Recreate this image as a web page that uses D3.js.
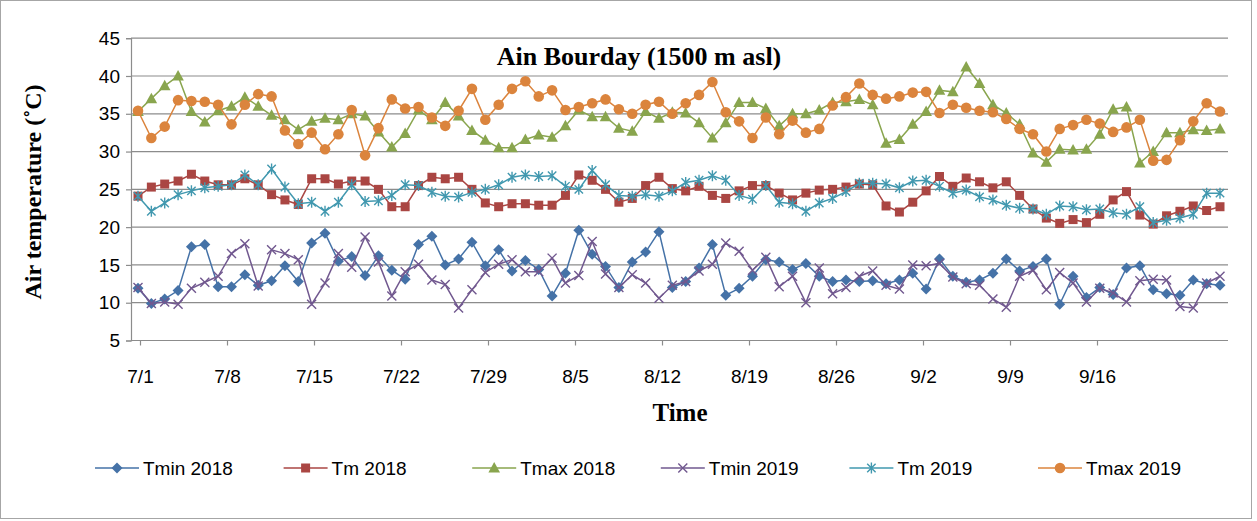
<!DOCTYPE html>
<html>
<head>
<meta charset="utf-8">
<script src="https://cdn.jsdelivr.net/npm/d3@7"></script>
<style>
  body { margin: 0; background: #fff; }
  svg { display: block; }
</style>
</head>
<body>
<svg id="chart" width="1257" height="521"></svg>
<script>
// x-axis tick labels (month/day)
const tickLabels = ['7/1', '7/8', '7/15', '7/22', '7/29', '8/5', '8/12', '8/19', '8/26', '9/2', '9/9', '9/16'];

// daily air temperature (°C), 82 days from 7/1
const tmin2018 = [
  11.9, 9.9, 10.5, 11.6, 17.4, 17.7, 12.1, 12.1, 13.7, 12.3, 12.9, 14.9, 12.8, 17.9,
  19.2, 15.5, 16.1, 13.6, 16.2, 14.3, 13.1, 17.7, 18.8, 15.0, 15.8, 18.0, 14.9,
  17.0, 14.2, 15.6, 14.4, 10.9, 13.9, 19.6, 16.4, 14.8, 12.0, 15.4, 16.7, 19.4, 12.0,
  12.8, 14.6, 17.7, 11.0, 11.9, 13.5, 15.7, 15.4, 14.4, 15.2, 13.5, 12.8, 13.0,
  12.8, 12.9, 12.5, 13.0, 13.9, 11.8, 15.8, 13.5, 12.7, 13.0, 13.9, 15.8, 14.2,
  14.8, 15.8, 9.8, 13.5, 10.7, 12.0, 11.1, 14.6, 14.9, 11.7, 11.2, 11.0, 13.0, 12.5, 12.3
];
const tm2018 = [
  24.1, 25.3, 25.7, 26.1, 27.0, 26.1, 25.6, 25.6, 26.4, 25.6, 24.3, 23.6, 23.0, 26.4,
  26.4, 25.7, 26.1, 26.1, 25.0, 22.7, 22.7, 25.5, 26.6, 26.4, 26.6, 25.0, 23.2,
  22.7, 23.1, 23.1, 22.9, 22.9, 24.2, 26.9, 26.2, 25.0, 23.3, 23.8, 25.5, 26.6, 25.1,
  24.8, 25.4, 24.2, 23.8, 24.8, 25.5, 25.5, 24.5, 23.6, 24.5, 24.9, 25.0, 25.3,
  25.7, 25.6, 22.8, 22.0, 23.3, 24.8, 26.7, 25.4, 26.5, 26.0, 25.2, 26.0, 24.2,
  22.4, 21.2, 20.5, 21.0, 20.6, 21.7, 23.6, 24.7, 21.6, 20.4, 21.5, 22.1, 22.8, 22.2, 22.7
];
const tmax2018 = [
  35.3, 37.0, 38.7, 40.0, 35.3, 33.9, 35.4, 36.0, 37.2, 36.0, 34.8, 34.2, 32.9, 34.0,
  34.4, 34.2, 35.0, 34.7, 32.6, 30.6, 32.4, 35.5, 34.2, 36.5, 34.7, 32.8, 31.5,
  30.5, 30.5, 31.6, 32.2, 31.9, 33.4, 35.5, 34.6, 34.6, 33.1, 32.7, 35.3, 34.4, 35.2,
  35.1, 33.8, 31.8, 33.8, 36.5, 36.5, 35.7, 33.4, 35.0, 35.0, 35.5, 36.5, 36.6,
  36.9, 36.2, 31.1, 31.6, 33.6, 35.3, 38.1, 37.9, 41.2, 39.0, 36.2, 35.1, 33.6,
  29.8, 28.6, 30.3, 30.2, 30.3, 32.3, 35.6, 35.9, 28.5, 30.0, 32.5, 32.5, 32.9, 32.8, 33.0
];
const tmin2019 = [
  12.0, 9.9, 10.1, 9.8, 11.9, 12.7, 13.5, 16.5, 17.8, 12.2, 17.0, 16.5, 15.7, 9.8,
  12.6, 16.5, 14.7, 18.7, 15.4, 10.9, 14.1, 15.1, 13.0, 12.4, 9.3, 11.7, 14.0,
  15.1, 15.7, 14.1, 14.1, 15.9, 12.6, 13.6, 18.1, 13.8, 12.0, 13.7, 12.6, 10.6, 12.3,
  12.8, 14.2, 15.1, 17.9, 16.8, 14.3, 16.0, 12.1, 13.5, 10.0, 14.6, 11.2, 12.0,
  13.5, 14.2, 12.3, 11.8, 15.0, 14.9, 15.2, 13.4, 12.5, 12.3, 10.5, 9.4, 13.5,
  14.3, 11.7, 14.0, 12.6, 10.1, 11.9, 11.3, 10.1, 12.9, 13.1, 13.0, 9.5, 9.3, 12.6, 13.5
];
const tm2019 = [
  24.1, 22.1, 23.2, 24.3, 24.8, 25.2, 25.4, 25.6, 26.9, 25.6, 27.7, 25.3, 23.1, 23.3,
  22.1, 23.3, 25.6, 23.4, 23.5, 24.2, 25.6, 25.5, 24.6, 24.1, 24.0, 24.6, 25.0,
  25.6, 26.6, 26.9, 26.7, 26.8, 25.4, 25.0, 27.5, 25.6, 24.2, 24.1, 24.3, 24.1, 24.8,
  25.9, 26.2, 26.8, 26.2, 24.2, 23.7, 25.5, 23.3, 23.1, 22.1, 23.2, 23.8, 24.7,
  25.8, 25.8, 25.7, 25.2, 26.1, 26.2, 25.4, 24.5, 24.9, 24.0, 23.6, 22.9, 22.5,
  22.4, 21.7, 22.8, 22.7, 22.3, 22.4, 21.9, 21.7, 22.7, 20.6, 20.9, 21.2, 21.7, 24.5, 24.5
];
const tmax2019 = [
  35.4, 31.8, 33.3, 36.8, 36.7, 36.6, 36.2, 33.6, 36.2, 37.6, 37.3, 32.8, 31.0, 32.5,
  30.3, 32.3, 35.5, 29.5, 33.1, 36.9, 35.7, 35.9, 34.5, 33.4, 35.4, 38.3, 34.2,
  36.2, 38.3, 39.3, 37.3, 38.1, 35.5, 35.9, 36.4, 36.9, 35.6, 35.0, 36.2, 36.6, 35.0,
  36.4, 37.5, 39.2, 35.2, 34.0, 31.8, 34.5, 32.3, 34.1, 32.5, 33.0, 36.1, 37.2,
  39.0, 37.5, 37.0, 37.3, 37.8, 37.9, 35.1, 36.2, 35.8, 35.4, 35.2, 34.3, 33.0,
  32.3, 30.0, 33.0, 33.5, 34.2, 33.7, 32.6, 33.2, 34.2, 28.8, 28.9, 31.5, 34.0, 36.4, 35.3
];

const seriesNames = ['Tmin 2018', 'Tm 2018', 'Tmax 2018', 'Tmin 2019', 'Tm 2019', 'Tmax 2019'];

const series = [
  { name: seriesNames[0], values: tmin2018, color: '#4572A7', marker: 'diamond' },
  { name: seriesNames[1], values: tm2018, color: '#AA4643', marker: 'square' },
  { name: seriesNames[2], values: tmax2018, color: '#89A54E', marker: 'triangle' },
  { name: seriesNames[3], values: tmin2019, color: '#71588F', marker: 'cross' },
  { name: seriesNames[4], values: tm2019, color: '#4198AF', marker: 'star' },
  { name: seriesNames[5], values: tmax2019, color: '#DB843D', marker: 'circle' }
];

const SANS = 'Liberation Sans, Arial, sans-serif';
const SERIF = 'Liberation Serif, Times New Roman, serif';
const GRID = '#8c8c8c';

const svg = d3.select('#chart');

// outer chart border
svg.append('rect')
  .attr('x', 0.5).attr('y', 0.5)
  .attr('width', 1251).attr('height', 518)
  .attr('fill', '#fff')
  .attr('stroke', '#a6a6a6');

const plot = { left: 131, right: 1228, top: 38.2, bottom: 340.5 };

// scales
const x = d3.scaleLinear().domain([0, tmin2018.length - 1]).range([138, 1220]);
const parseMD = d3.timeParse('%m/%d');
const tickDates = tickLabels.map(parseMD);
const xDate = d3.scaleTime()
  .domain([tickDates[0], tickDates[tickDates.length - 1]])
  .range([140, 1097]);
const y = d3.scaleLinear().domain([5, 45]).range([plot.bottom, plot.top]);

// horizontal gridlines
svg.append('g')
  .selectAll('line')
  .data(d3.range(10, 46, 5))
  .join('line')
  .attr('x1', plot.left).attr('x2', plot.right)
  .attr('y1', d => y(d)).attr('y2', d => y(d))
  .attr('stroke', GRID)
  .attr('stroke-width', 1.2);

// y axis
const yAxis = svg.append('g')
  .attr('transform', `translate(${plot.left},0)`)
  .call(d3.axisLeft(y).tickValues(d3.range(5, 46, 5)).tickSize(5).tickPadding(6));
yAxis.select('.domain').attr('stroke', GRID).attr('stroke-width', 1.2);
yAxis.selectAll('.tick line').attr('stroke', GRID).attr('stroke-width', 1.2);
yAxis.selectAll('.tick text')
  .attr('fill', '#000')
  .style('font-family', SANS)
  .style('font-size', '19px');

// x axis
svg.append('line')
  .attr('x1', plot.left).attr('x2', plot.right)
  .attr('y1', y(5)).attr('y2', y(5))
  .attr('stroke', GRID).attr('stroke-width', 1.2);

const xAxis = svg.append('g')
  .attr('transform', `translate(0,${y(5)})`)
  .call(d3.axisBottom(xDate).tickValues(tickDates).tickFormat(d3.timeFormat('%-m/%-d')).tickSize(5).tickPadding(24));
xAxis.select('.domain').remove();
xAxis.selectAll('.tick line').attr('stroke', GRID).attr('stroke-width', 1.2);
xAxis.selectAll('.tick text')
  .attr('fill', '#000')
  .style('font-family', SANS)
  .style('font-size', '19px');

// titles
svg.append('text')
  .attr('x', 639).attr('y', 65)
  .attr('text-anchor', 'middle')
  .style('font-family', SERIF)
  .style('font-weight', 'bold')
  .style('font-size', '26px')
  .text('Ain Bourday (1500 m asl)');

svg.append('text')
  .attr('x', 680).attr('y', 421)
  .attr('text-anchor', 'middle')
  .style('font-family', SERIF)
  .style('font-weight', 'bold')
  .style('font-size', '25px')
  .text('Time');

svg.append('text')
  .attr('transform', 'translate(41,192) rotate(-90)')
  .attr('text-anchor', 'middle')
  .style('font-family', SERIF)
  .style('font-weight', 'bold')
  .style('font-size', '24px')
  .text('Air temperature (˚C)');

// marker drawing
function drawMarker(sel, type, color) {
  if (type === 'diamond') {
    sel.append('path').attr('d', 'M0,-5.5L5.5,0L0,5.5L-5.5,0Z').attr('fill', color);
  } else if (type === 'square') {
    sel.append('rect').attr('x', -4.5).attr('y', -4.5).attr('width', 9).attr('height', 9).attr('fill', color);
  } else if (type === 'triangle') {
    sel.append('path').attr('d', 'M0,-6L5.8,4.5L-5.8,4.5Z').attr('fill', color);
  } else if (type === 'circle') {
    sel.append('circle').attr('r', 5.3).attr('fill', color);
  } else if (type === 'cross') {
    sel.append('path').attr('d', 'M-4.5,-4.5L4.5,4.5M-4.5,4.5L4.5,-4.5')
      .attr('stroke', color).attr('stroke-width', 1.4).attr('fill', 'none');
  } else if (type === 'star') {
    sel.append('path').attr('d', 'M-4.2,-4.2L4.2,4.2M-4.2,4.2L4.2,-4.2M0,-5.5L0,5.5')
      .attr('stroke', color).attr('stroke-width', 1.4).attr('fill', 'none');
  }
}

const line = d3.line()
  .x((d, i) => x(i))
  .y(d => y(d));

// series
series.forEach(s => {
  const g = svg.append('g');
  g.append('path')
    .datum(s.values)
    .attr('d', line)
    .attr('fill', 'none')
    .attr('stroke', s.color)
    .attr('stroke-width', 1.5);

  g.selectAll('g.pt')
    .data(s.values)
    .join('g')
    .attr('class', 'pt')
    .attr('transform', (d, i) => `translate(${x(i)},${y(d)})`)
    .each(function () { drawMarker(d3.select(this), s.marker, s.color); });
});

// legend: six evenly spaced entries
const legendX = d3.scalePoint().domain(seriesNames).range([117, 1060]);
const legend = svg.append('g').attr('transform', 'translate(0,468)');
series.forEach(s => {
  const item = legend.append('g').attr('transform', `translate(${legendX(s.name)},0)`);
  item.append('line')
    .attr('x1', -22).attr('x2', 22)
    .attr('stroke', s.color).attr('stroke-width', 1.5);
  drawMarker(item.append('g'), s.marker, s.color);
  item.append('text')
    .attr('x', 26).attr('y', 7)
    .style('font-family', SANS)
    .style('font-size', '19px')
    .text(s.name);
});
</script>
</body>
</html>
